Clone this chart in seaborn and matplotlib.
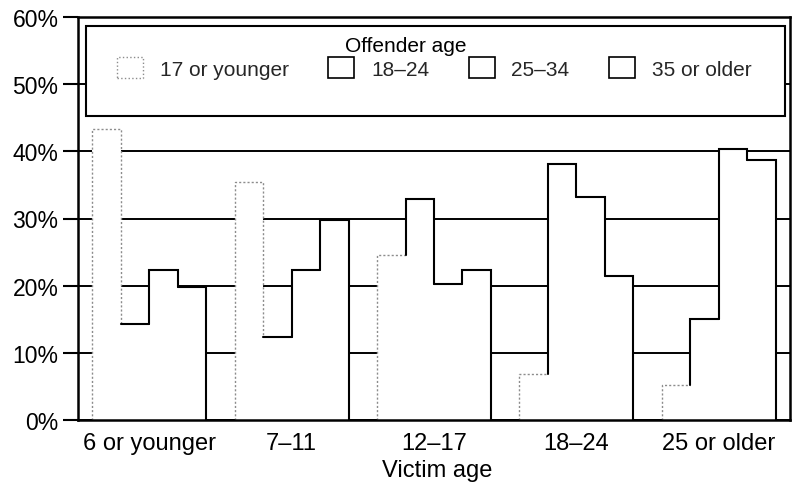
import matplotlib
matplotlib.use("Agg")
import matplotlib.pyplot as plt
from matplotlib.patches import Patch, Rectangle
import seaborn as sns
import pandas as pd

# datos (porcentaje de delincuentes por edad de la victima)
victim_ages = ["6 or younger", "7\u201311", "12\u201317", "18\u201324", "25 or older"]
offender_ages = ["17 or younger", "18\u201324", "25\u201334", "35 or older"]
pct_17_or_younger = [43.3, 35.4, 24.6, 6.8, 5.2]
pct_18_24 = [14.3, 12.4, 32.9, 38.1, 15.0]
pct_25_34 = [22.3, 22.3, 20.2, 33.2, 40.3]
pct_35_or_older = [19.8, 29.8, 22.4, 21.5, 38.7]
y_ticks = [0, 10, 20, 30, 40, 50, 60]

series = [pct_17_or_younger, pct_18_24, pct_25_34, pct_35_or_older]
rows = []
for off, vals in zip(offender_ages, series):
    for vic, v in zip(victim_ages, vals):
        rows.append({"victim": vic, "offender": off, "pct": v})
df = pd.DataFrame(rows)

sns.set_style("white")
plt.rcParams["font.family"] = ["Liberation Sans", "DejaVu Sans"]

fig = plt.figure(figsize=(7.92, 4.89), dpi=100)
ax = fig.add_axes([78 / 792, 68 / 489, 712 / 792, 403 / 489])

sns.barplot(data=df, x="victim", y="pct", hue="offender", order=victim_ages,
            hue_order=offender_ages, palette=["white"] * 4, saturation=1,
            errorbar=None, linewidth=0, edgecolor="none", legend=False, ax=ax)

# contorno tipo "escalera": solo la parte visible de cada barra
grupos = {}
for p in ax.patches:
    cx = p.get_x() + p.get_width() / 2
    grupos.setdefault(int(round(cx)), []).append(p)

for g, bars in grupos.items():
    bars = sorted(bars, key=lambda b: b.get_x())
    alturas = [b.get_height() for b in bars]
    for k, b in enumerate(bars):
        x0, x1, h = b.get_x(), b.get_x() + b.get_width(), alturas[k]
        prev_h = alturas[k - 1] if k > 0 else 0
        next_h = alturas[k + 1] if k < len(bars) - 1 else 0
        ini = prev_h if prev_h < h else h
        fin = next_h if next_h < h else h
        if k == 0:
            ax.plot([x0, x0, x1, x1], [ini, h, h, fin], color="#8c8c8c",
                    lw=1.0, ls=(0, (1.5, 1.5)), zorder=2.5)
        else:
            ax.plot([x0, x0, x1, x1], [ini, h, h, fin], color="black",
                    lw=1.5, solid_joinstyle="miter", zorder=2.6)

ax.set_xlim(-0.5, 4.5)
ax.set_ylim(0, 60)
ax.set_yticks(y_ticks)
ax.set_yticklabels([f"{t}%" for t in y_ticks])
ax.set_axisbelow(True)
ax.yaxis.grid(True, color="black", lw=1.4)
ax.xaxis.grid(False)

for s in ax.spines.values():
    s.set_visible(True)
    s.set_color("black")
    s.set_linewidth(1.8)

ax.tick_params(axis="y", direction="out", length=11, width=1.5, pad=3,
               labelsize=16.5, colors="black", left=True)
ax.tick_params(axis="x", length=0, pad=9, labelsize=17, colors="black")
ax.set_ylabel("")
ax.set_xlabel("Victim age", fontsize=17, color="black")
ax.xaxis.set_label_coords(0.504, -0.098)

# recuadro de la leyenda
ax.add_patch(Rectangle((0.011, 0.754), 0.982, 0.224, transform=ax.transAxes,
                       facecolor="white", edgecolor="black", lw=1.5, zorder=3))
fig.text(406 / 792, 1 - 52 / 489, "Offender age", ha="center", va="baseline",
         fontsize=15, color="black", zorder=6)

handles = [Patch(facecolor="white", edgecolor="#8c8c8c", linestyle=":", linewidth=1.0)]
handles += [Patch(facecolor="white", edgecolor="black", linewidth=1.2) for _ in range(3)]
leg = ax.legend(handles, offender_ages, loc="upper left", bbox_to_anchor=(0.0548, 0.9007),
                ncol=4, frameon=False, borderpad=0, borderaxespad=0, fontsize=15,
                handlelength=1.25, handleheight=1.2, handletextpad=0.8,
                columnspacing=1.9)
leg.set_zorder(6)

fig.savefig("out.png", dpi=100)
